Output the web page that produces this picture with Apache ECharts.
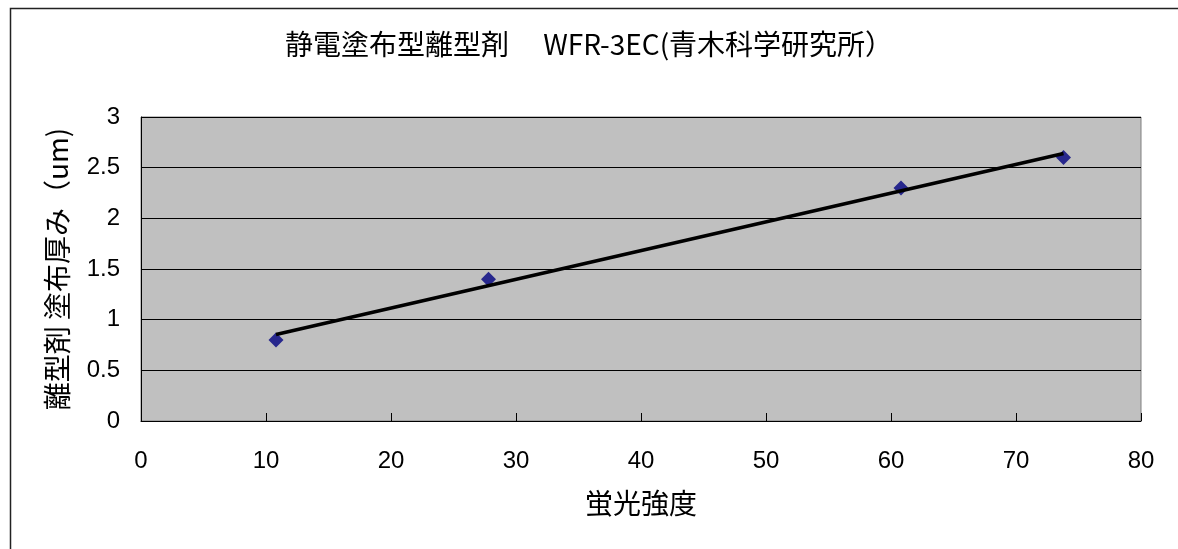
<!DOCTYPE html>
<html>
<head>
<meta charset="utf-8">
<script src="https://cdn.jsdelivr.net/npm/echarts@6/dist/echarts.min.js"></script>
<style>
  html, body { margin: 0; padding: 0; background: #fff; }
  #main { width: 1178px; height: 549px; }
</style>
</head>
<body>
<div id="main"></div>
<script>
// 蛍光強度 と 塗布厚み の測定値
var keikou = [10.8, 27.8, 60.8, 73.8];
var atsumi = [0.8, 1.4, 2.3, 2.6];

var titleText = '静電塗布型離型剤　 WFR-3EC(青木科学研究所）';
var xName = '蛍光強度';
var yName = '離型剤 塗布厚み（um)';

// 近似直線（最小二乗）
function linearFit(xs, ys) {
    var n = xs.length, mx = 0, my = 0;
    for (var i = 0; i < n; i++) { mx += xs[i]; my += ys[i]; }
    mx /= n; my /= n;
    var sxy = 0, sxx = 0;
    for (var j = 0; j < n; j++) {
        sxy += (xs[j] - mx) * (ys[j] - my);
        sxx += (xs[j] - mx) * (xs[j] - mx);
    }
    var a = sxy / sxx;
    return { a: a, b: my - a * mx };
}
var fit = linearFit(keikou, atsumi);
var x0 = Math.min.apply(null, keikou), x1 = Math.max.apply(null, keikou);
var trend = [[x0, fit.a * x0 + fit.b], [x1, fit.a * x1 + fit.b]];

var points = keikou.map(function (v, i) { return [v, atsumi[i]]; });

var numFont = 'Liberation Sans, Arial, sans-serif';
var jpFont = '"Noto Sans CJK JP", sans-serif';

var chart = echarts.init(document.getElementById('main'));
var option = {
    animation: false,
    backgroundColor: '#fff',
    graphic: [{
        type: 'rect',
        left: 8, top: 6,
        shape: { width: 1200, height: 600 },
        style: { fill: 'none', stroke: '#222', lineWidth: 1.5 },
        silent: true
    }],
    title: {
        text: titleText,
        left: 'center',
        top: 25,
        textStyle: { fontFamily: jpFont, fontSize: 28, fontWeight: 'normal', color: '#000' }
    },
    grid: {
        left: 141, right: 37, top: 117, bottom: 128,
        show: true,
        backgroundColor: '#c0c0c0',
        borderColor: '#808080',
        borderWidth: 1
    },
    xAxis: {
        type: 'value',
        min: 0, max: 80, interval: 10,
        name: xName,
        nameLocation: 'middle',
        nameGap: 68,
        nameTextStyle: { fontFamily: jpFont, fontSize: 28, color: '#000' },
        axisLine: { lineStyle: { color: '#000', width: 1 } },
        axisTick: { inside: true, length: 8, lineStyle: { color: '#000' } },
        axisLabel: { margin: 28, fontFamily: numFont, fontSize: 24, color: '#000' },
        splitLine: { show: false }
    },
    yAxis: {
        type: 'value',
        min: 0, max: 3, interval: 0.5,
        name: yName,
        nameLocation: 'middle',
        nameRotate: 90,
        nameGap: 70,
        nameTextStyle: { fontFamily: jpFont, fontSize: 28, color: '#000' },
        axisLine: { show: true, lineStyle: { color: '#000', width: 1 } },
        axisTick: { show: true, inside: true, length: 8, lineStyle: { color: '#000' } },
        axisLabel: { margin: 21, fontFamily: numFont, fontSize: 24, color: '#000' },
        splitLine: { show: true, lineStyle: { color: '#000', width: 1 } }
    },
    series: [
        {
            type: 'scatter',
            data: points,
            symbol: 'diamond',
            symbolSize: 15,
            itemStyle: { color: '#000080' },
            z: 2
        },
        {
            type: 'line',
            data: trend,
            symbol: 'none',
            lineStyle: { color: '#000', width: 3.5 },
            z: 3
        }
    ]
};
chart.setOption(option);
</script>
</body>
</html>
